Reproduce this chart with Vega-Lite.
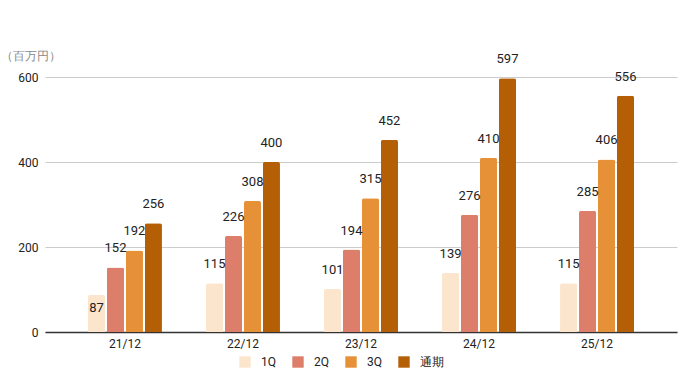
{
  "$schema": "https://vega.github.io/schema/vega-lite/v6.json",
  "width": 632,
  "height": 255,
  "autosize": {"type": "none"},
  "padding": {"left": 45, "top": 77, "right": 18, "bottom": 39},
  "background": "white",
  "config": {
    "font": "Roboto",
    "view": {"stroke": null},
    "axis": {"labelFont": "Roboto", "titleFont": "Roboto"}
  },
  "data": {
    "values": [
      {"year": "21/12", "q": "1Q", "v": 87},
      {"year": "21/12", "q": "2Q", "v": 152},
      {"year": "21/12", "q": "3Q", "v": 192},
      {"year": "21/12", "q": "通期", "v": 256},
      {"year": "22/12", "q": "1Q", "v": 115},
      {"year": "22/12", "q": "2Q", "v": 226},
      {"year": "22/12", "q": "3Q", "v": 308},
      {"year": "22/12", "q": "通期", "v": 400},
      {"year": "23/12", "q": "1Q", "v": 101},
      {"year": "23/12", "q": "2Q", "v": 194},
      {"year": "23/12", "q": "3Q", "v": 315},
      {"year": "23/12", "q": "通期", "v": 452},
      {"year": "24/12", "q": "1Q", "v": 139},
      {"year": "24/12", "q": "2Q", "v": 276},
      {"year": "24/12", "q": "3Q", "v": 410},
      {"year": "24/12", "q": "通期", "v": 597},
      {"year": "25/12", "q": "1Q", "v": 115},
      {"year": "25/12", "q": "2Q", "v": 285},
      {"year": "25/12", "q": "3Q", "v": 406},
      {"year": "25/12", "q": "通期", "v": 556}
    ]
  },
  "encoding": {
    "x": {
      "field": "year",
      "type": "nominal",
      "sort": null,
      "scale": {"paddingInner": 0.373, "paddingOuter": 0.364},
      "axis": {
        "title": null,
        "labelAngle": 0,
        "ticks": false,
        "labelColor": "#222222",
        "labelFontSize": 12,
        "labelPadding": 6,
        "domainColor": "#333333",
        "domainWidth": 1.5
      }
    },
    "xOffset": {
      "field": "q",
      "type": "nominal",
      "sort": ["1Q", "2Q", "3Q", "通期"],
      "scale": {"paddingInner": 0.1}
    },
    "y": {
      "field": "v",
      "type": "quantitative",
      "scale": {"domain": [0, 600], "nice": false},
      "axis": {
        "values": [0, 200, 400, 600],
        "title": "（百万円）",
        "titleAngle": 0,
        "titleAlign": "left",
        "titleBaseline": "middle",
        "titleX": -45,
        "titleY": -22,
        "titleColor": "#888888",
        "titleFontSize": 12,
        "titleFontWeight": "normal",
        "ticks": false,
        "domain": false,
        "labelColor": "#222222",
        "labelFontSize": 12,
        "labelPadding": 7,
        "gridColor": "#cccccc",
        "format": "d"
      }
    }
  },
  "layer": [
    {
      "mark": {"type": "bar", "cornerRadiusTopLeft": 2, "cornerRadiusTopRight": 2},
      "encoding": {
        "color": {
          "field": "q",
          "type": "nominal",
          "sort": ["1Q", "2Q", "3Q", "通期"],
          "scale": {
            "domain": ["1Q", "2Q", "3Q", "通期"],
            "range": ["#fce5cd", "#dd7e6b", "#e69138", "#b45f06"]
          },
          "legend": {
            "title": null,
            "orient": "none",
            "legendX": 194,
            "legendY": 279,
            "direction": "horizontal",
            "symbolType": "square",
            "symbolSize": 130,
            "symbolStrokeWidth": 0,
            "labelFontSize": 12,
            "labelColor": "#222222",
            "columnPadding": 16,
            "labelOffset": 10
          }
        }
      }
    },
    {
      "transform": [{"filter": "datum.v >= 100"}],
      "mark": {"type": "text", "baseline": "middle", "dy": -19, "fontSize": 13, "color": "#222222"},
      "encoding": {"text": {"field": "v", "type": "quantitative"}}
    },
    {
      "transform": [{"filter": "datum.v < 100"}],
      "mark": {"type": "text", "baseline": "middle", "dy": 13, "fontSize": 13, "color": "#222222"},
      "encoding": {"text": {"field": "v", "type": "quantitative"}}
    }
  ]
}
